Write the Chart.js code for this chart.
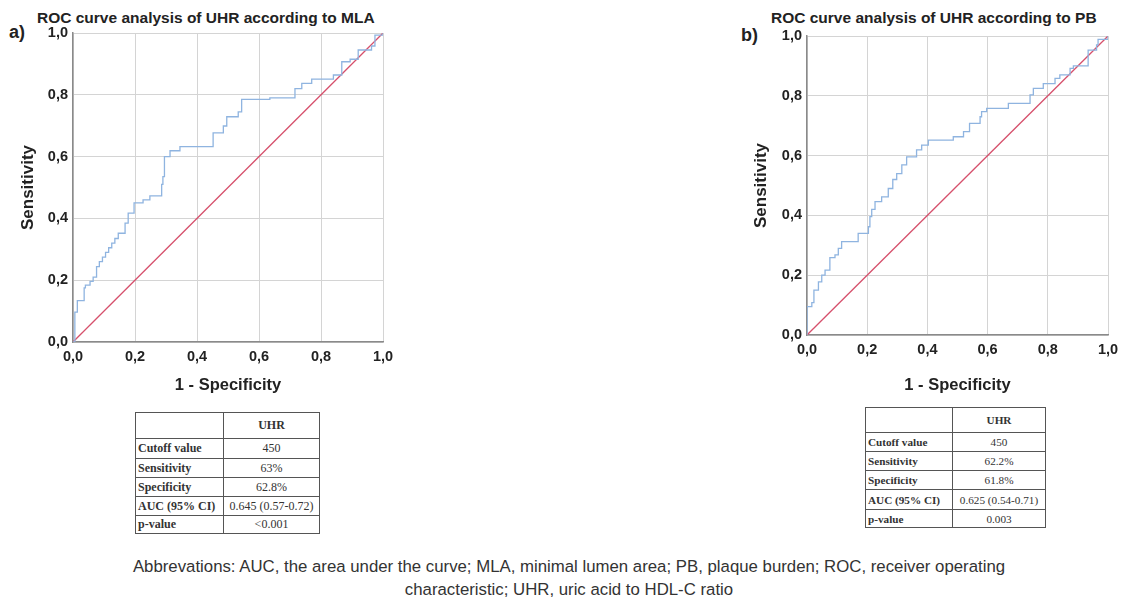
<!DOCTYPE html>
<html>
<head>
<meta charset="utf-8">
<script src="https://cdn.jsdelivr.net/npm/chart.js@4.4.1/dist/chart.umd.min.js"></script>
<style>
  body { margin: 0; width: 1138px; height: 604px; background: #fff; position: relative; overflow: hidden; font-family: "Liberation Sans", Arial, sans-serif; color: #222; }
  .abs { position: absolute; }
  .ttl { font-weight: bold; font-size: 15.5px; line-height: 20px; white-space: nowrap; }
  .panel { font-weight: bold; font-size: 18px; line-height: 20px; }
  table { border-collapse: collapse; table-layout: fixed; font-family: "Liberation Serif", "Times New Roman", serif; color: #333; background: #fff; }
  td { border: 1px solid #555; padding: 0 2px; white-space: nowrap; overflow: hidden; }
  td.lab { font-weight: bold; text-align: left; }
  td.val { text-align: center; }
  .note { font-size: 16.8px; line-height: 23px; text-align: center; width: 1138px; color: #333; }
</style>
</head>
<body>
<div class="abs panel" style="left:9px; top:22px;">a)</div>
<div class="abs ttl" style="left:37px; top:8px;">ROC curve analysis of UHR according to MLA</div>
<canvas id="mla" class="abs" width="412" height="400" style="left:0; top:0;"></canvas>

<div class="abs panel" style="left:741px; top:25px;">b)</div>
<div class="abs ttl" style="left:771px; top:8px;">ROC curve analysis of UHR according to PB</div>
<canvas id="pb" class="abs" width="398" height="400" style="left:740px; top:0;"></canvas>

<table class="abs" id="tblMla" style="left:135px; top:412px;"></table>
<table class="abs" id="tblPb" style="left:865px; top:407px;"></table>

<div class="abs note" style="left:0; top:555px;">Abbrevations: AUC, the area under the curve; MLA, minimal lumen area; PB, plaque burden; ROC, receiver operating<br>characteristic; UHR, uric acid to HDL-C ratio</div>

<script>
// ROC curve of UHR for MLA (1 - specificity, sensitivity at each step)
const mlaFpr = [0, 0.006, 0.014, 0.036, 0.04, 0.055, 0.065, 0.076, 0.085, 0.095, 0.105, 0.115, 0.125, 0.135, 0.146,
  0.168, 0.178, 0.197, 0.226, 0.248, 0.286, 0.29, 0.295, 0.313, 0.345, 0.452, 0.485, 0.496, 0.533, 0.544,
  0.635, 0.716, 0.738, 0.77, 0.84, 0.867, 0.894, 0.92, 0.963, 0.974, 1];
const mlaTpr = [0, 0.097, 0.134, 0.175, 0.184, 0.196, 0.21, 0.244, 0.26, 0.275, 0.29, 0.305, 0.32, 0.335, 0.352,
  0.385, 0.417, 0.45, 0.46, 0.473, 0.51, 0.535, 0.60, 0.619, 0.632, 0.677, 0.699, 0.729, 0.745, 0.785,
  0.79, 0.82, 0.837, 0.851, 0.864, 0.907, 0.915, 0.945, 0.958, 0.993, 1];

// ROC curve of UHR for PB
const pbFpr = [0, 0, 0.016, 0.023, 0.038, 0.049, 0.06, 0.076, 0.093, 0.104, 0.115, 0.17, 0.204, 0.209, 0.215,
  0.226, 0.248, 0.27, 0.285, 0.298, 0.315, 0.331, 0.364, 0.381, 0.403, 0.486, 0.52, 0.54, 0.575, 0.58,
  0.597, 0.669, 0.741, 0.752, 0.785, 0.824, 0.84, 0.874, 0.885, 0.934, 0.962, 0.967, 1];
const pbTpr = [0, 0.095, 0.108, 0.15, 0.178, 0.2, 0.217, 0.259, 0.268, 0.29, 0.312, 0.34, 0.362, 0.396, 0.42,
  0.446, 0.462, 0.49, 0.52, 0.54, 0.569, 0.596, 0.619, 0.635, 0.652, 0.663, 0.68, 0.708, 0.73, 0.747,
  0.758, 0.775, 0.803, 0.825, 0.841, 0.858, 0.87, 0.892, 0.90, 0.953, 0.97, 0.989, 1];

// reference (chance) line
const refLine = [0, 1];
const tickValues = [0, 0.2, 0.4, 0.6, 0.8, 1];

// table contents
const rowLabels = ["Cutoff value", "Sensitivity", "Specificity", "AUC (95% CI)", "p-value"];
const mlaStats = ["450", "63%", "62.8%", "0.645 (0.57-0.72)", "<0.001"];
const pbStats = ["450", "62.2%", "61.8%", "0.625 (0.54-0.71)", "0.003"];

const FONT = "'Liberation Sans', Arial, sans-serif";

function buildTable(id, values, t) {
  const el = document.getElementById(id);
  el.style.width = (t.w1 + t.w2) + "px";
  el.style.fontSize = t.fs + "px";
  let html = `<colgroup><col style="width:${t.w1}px"><col style="width:${t.w2}px"></colgroup>`;
  html += `<tr style="height:${t.headH}px"><td></td><td class="val" style="font-weight:bold">UHR</td></tr>`;
  rowLabels.forEach((lab, i) => {
    const txt = values[i].replace("<", "&lt;");
    html += `<tr style="height:${t.rowH[i]}px"><td class="lab">${lab}</td><td class="val">${txt}</td></tr>`;
  });
  el.innerHTML = html;
}

function makeRoc(id, fpr, tpr, g) {
  const pts = fpr.map((x, i) => ({ x: x, y: tpr[i] }));
  const diag = refLine.map(v => ({ x: v, y: v }));
  return new Chart(document.getElementById(id), {
    type: "scatter",
    data: {
      datasets: [
        { data: pts, showLine: true, stepped: "before", borderColor: "#8fb4e0", borderWidth: 1.3, pointRadius: 0, fill: false },
        { data: diag, showLine: true, borderColor: "#d6506c", borderWidth: 1.3, pointRadius: 0, fill: false },
      ],
    },
    options: {
      responsive: false,
      animation: false,
      layout: { padding: { left: 0, right: g.padR, top: g.padT, bottom: 0 } },
      plugins: { legend: { display: false }, tooltip: { enabled: false } },
      scales: {
        x: {
          type: "linear", min: 0, max: 1,
          afterBuildTicks: (s) => { s.ticks = tickValues.map(v => ({ value: v })); },
          afterFit: (s) => { s.height = g.xH; },
          grid: { color: "#d4d4d4", lineWidth: 1, drawTicks: false },
          border: { color: "#8a8a8a", width: 1.5 },
          ticks: {
            padding: 6, color: "#222", maxRotation: 0, autoSkip: false,
            font: { family: FONT, size: 14.5, weight: "bold" },
            callback: (v) => v.toFixed(1).replace(".", ","),
          },
          title: {
            display: true, text: "1 - Specificity", color: "#222",
            font: { family: FONT, size: 16.5, weight: "bold" },
            padding: { top: 0, bottom: 5 },
          },
        },
        y: {
          type: "linear", min: 0, max: 1,
          afterBuildTicks: (s) => { s.ticks = tickValues.map(v => ({ value: v })); },
          afterFit: (s) => { s.width = g.yW; },
          grid: { color: "#d4d4d4", lineWidth: 1, drawTicks: false },
          border: { color: "#8a8a8a", width: 1.5 },
          ticks: {
            padding: 5, color: "#222",
            font: { family: FONT, size: 14.5, weight: "bold" },
            callback: (v) => v.toFixed(1).replace(".", ","),
          },
          title: {
            display: true, text: "Sensitivity", color: "#222",
            font: { family: FONT, size: 17, weight: "bold" },
            padding: { top: g.yTitlePad, bottom: 0 },
          },
        },
      },
    },
  });
}

makeRoc("mla", mlaFpr, mlaTpr, { padR: 29, padT: 33, xH: 58, yW: 73, yTitlePad: 17.8 });
makeRoc("pb", pbFpr, pbTpr, { padR: 30, padT: 36, xH: 65, yW: 67, yTitlePad: 11.5 });

buildTable("tblMla", mlaStats, { w1: 88, w2: 96, fs: 12, headH: 26, rowH: [20, 19, 19, 19, 18] });
buildTable("tblPb", pbStats, { w1: 87, w2: 93, fs: 11.2, headH: 25, rowH: [19, 19, 19, 20, 18] });
</script>
</body>
</html>
